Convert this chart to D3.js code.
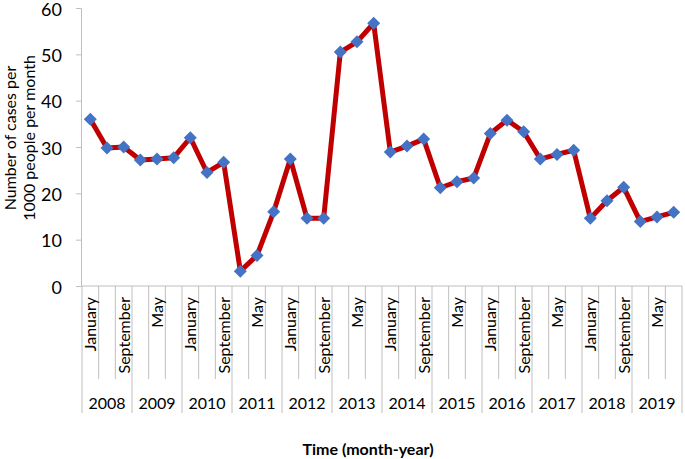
<!DOCTYPE html>
<html><head><meta charset="utf-8">
<script src="https://cdn.jsdelivr.net/npm/d3@7"></script>
<style>body{margin:0;background:#fff}svg{display:block}text{font-family:Lato,"Open Sans",sans-serif;fill:#000}</style>
</head><body><svg id="c" width="685" height="459"></svg>
<script>
const years = ["2008","2009","2010","2011","2012","2013","2014","2015","2016","2017","2018","2019"];
const months = ["January","May","September"];
const values = [36.0,29.8,30.0, 27.2,27.4,27.7, 32.0,24.5,26.7, 3.2,6.6,16.0, 27.4,14.6,14.6, 50.5,52.7,56.7,
                28.9,30.2,31.7, 21.2,22.5,23.3, 32.9,35.8,33.3, 27.4,28.4,29.3, 14.6,18.4,21.3, 13.9,14.9,15.9];
const yTicks = [0,10,20,30,40,50,60];
const yTitle = ["Number of cases per","1000 people per month"];
const xTitle = "Time (month-year)";

const cats = [];
years.forEach(y => months.forEach(m => cats.push({year:y, month:m, key:m+"-"+y})));
const data = cats.map((c,i) => ({...c, v: values[i], i}));

const svg = d3.select("#c");
const pLeft = 82, pRight = 682, pTop = 8, pBottom = 286;
const x = d3.scaleBand().domain(cats.map(c=>c.key)).range([pLeft,pRight]);
const y = d3.scaleLinear().domain([0,60]).range([pBottom,pTop]);
const axisCol = "#bfbfbf";

// y axis
const ya = svg.append("g").attr("transform",`translate(${pLeft-1},0)`)
  .call(d3.axisLeft(y).tickValues(yTicks).tickSize(5).tickPadding(14));
ya.select(".domain").attr("stroke",axisCol);
ya.selectAll(".tick line").attr("stroke",axisCol);
ya.selectAll(".tick text").attr("font-size",18).attr("font-family","Lato,sans-serif").attr("fill","#000").attr("dy","0.4em");

// x axis line
svg.append("line").attr("x1",pLeft-1).attr("x2",pRight).attr("y1",pBottom).attr("y2",pBottom).attr("stroke",axisCol);
// category dividers
const divs = d3.range(cats.length+1);
svg.append("g").selectAll("line").data(divs).join("line")
  .attr("x1",i=> i<cats.length ? x(cats[i].key) : pRight)
  .attr("x2",i=> i<cats.length ? x(cats[i].key) : pRight)
  .attr("y1",pBottom)
  .attr("y2",i=> i%3===0 ? 413 : 379)
  .attr("stroke",axisCol);
// month labels (every other category)
svg.append("g").selectAll("text").data(data.filter(d=>d.i%2===0)).join("text")
  .attr("transform",d=>`translate(${x(d.key)+x.bandwidth()/2+6},297) rotate(-90)`)
  .attr("text-anchor","end").attr("font-size",16).text(d=>d.month);
// year labels
svg.append("g").selectAll("text").data(years).join("text")
  .attr("x",(yr)=> x(months[1]+"-"+yr)+x.bandwidth()/2)
  .attr("y",409).attr("text-anchor","middle").attr("font-size",16).text(d=>d);

// line
const line = d3.line().x(d=>x(d.key)+x.bandwidth()/2).y(d=>y(d.v));
svg.append("path").datum(data).attr("d",line).attr("fill","none").attr("stroke","#c00000").attr("stroke-width",5).attr("stroke-linejoin","round");
// markers
const r = 6.5;
svg.append("g").selectAll("path").data(data).join("path")
  .attr("d",d=>{const cx=x(d.key)+x.bandwidth()/2, cy=y(d.v);return `M${cx},${cy-r}L${cx+r},${cy}L${cx},${cy+r}L${cx-r},${cy}Z`;})
  .attr("fill","#4472c4");

// titles
svg.append("text").attr("transform","translate(16,138) rotate(-90)").attr("text-anchor","middle").attr("font-size",16).text(yTitle[0]);
svg.append("text").attr("transform","translate(35,138) rotate(-90)").attr("text-anchor","middle").attr("font-size",16).text(yTitle[1]);
svg.append("text").attr("x",368).attr("y",455).attr("text-anchor","middle").attr("font-size",16).attr("font-weight","bold").text(xTitle);
</script></body></html>
